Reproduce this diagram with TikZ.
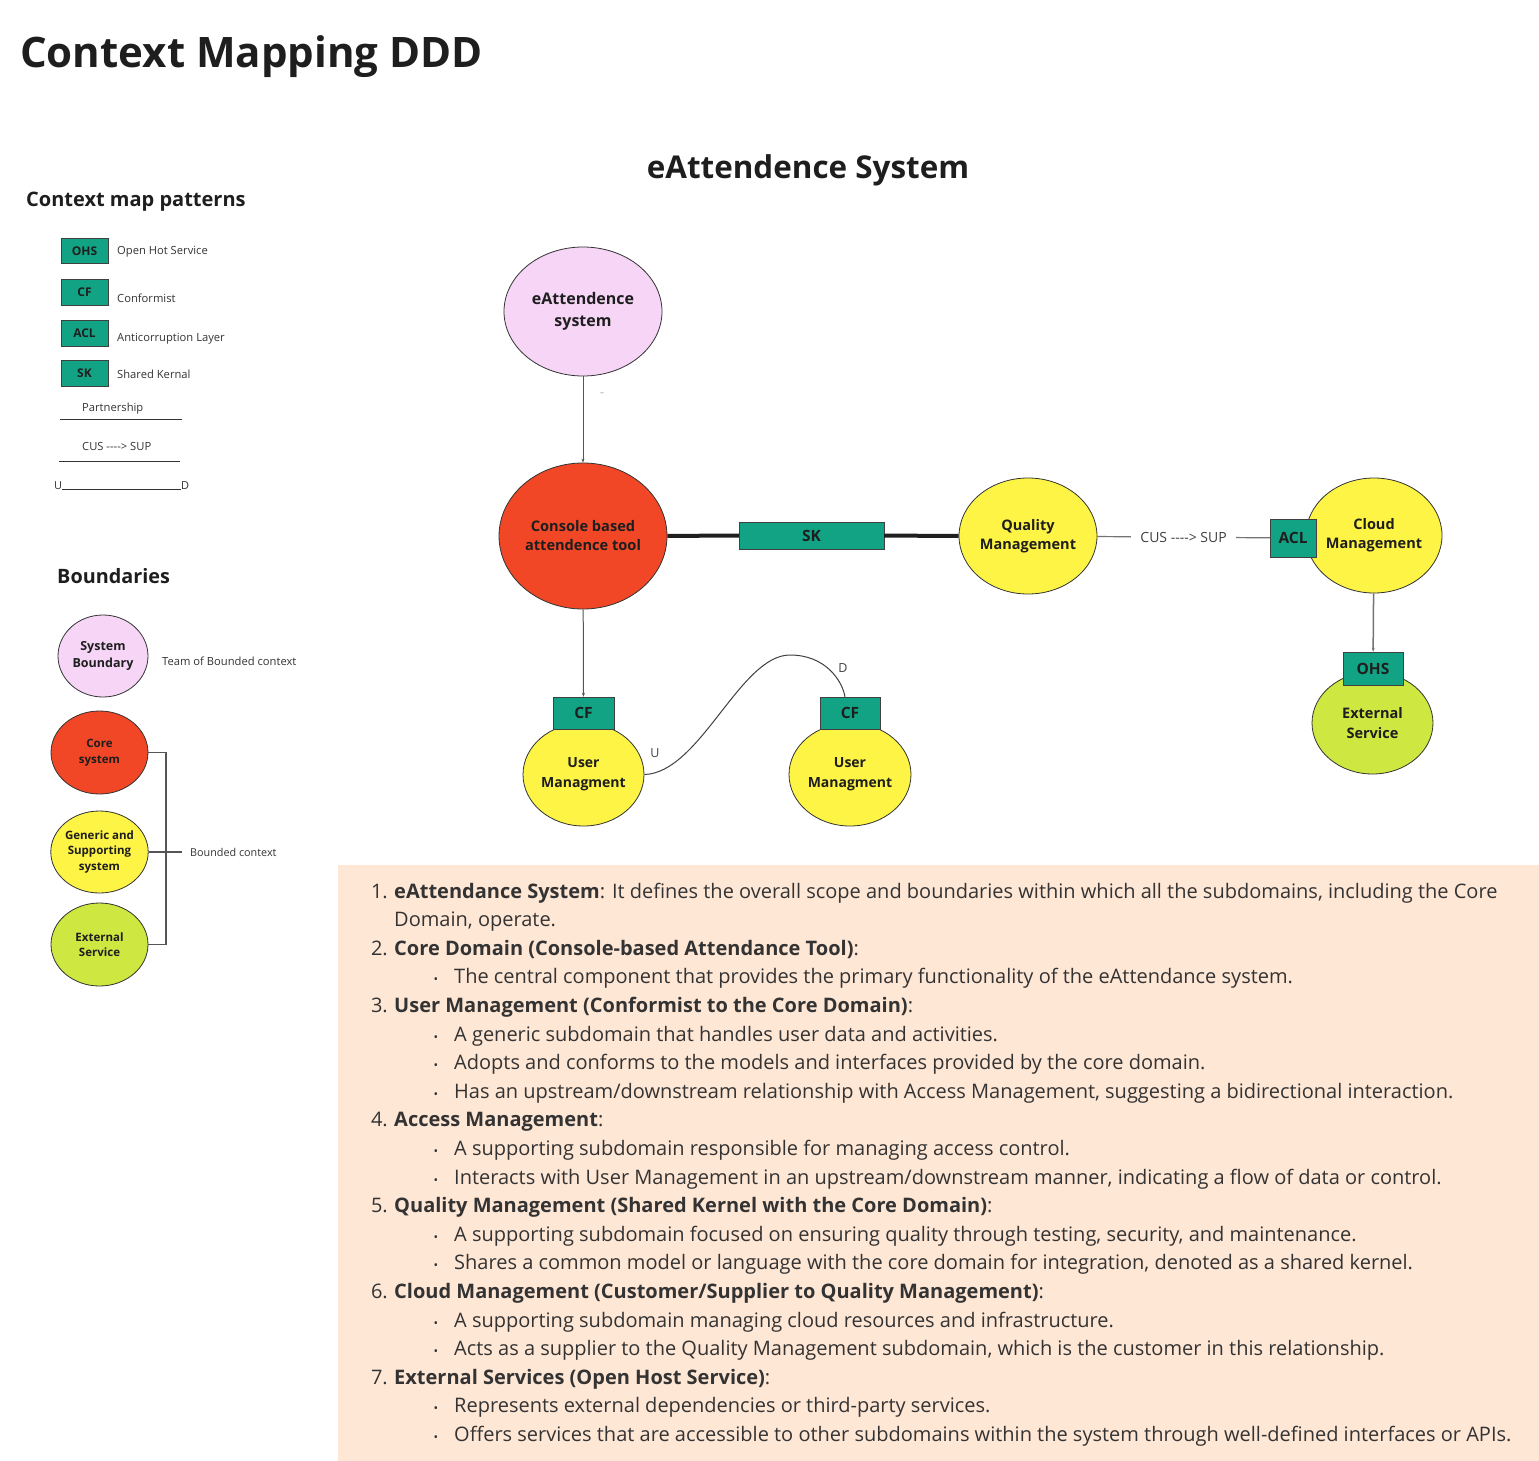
\documentclass[tikz,border=0pt]{standalone}
\usepackage{fontspec}
\setmainfont{Open Sans}
\usetikzlibrary{shapes.geometric,arrows.meta}

\definecolor{tealbox}{HTML}{12A385}
\definecolor{pinkbc}{HTML}{F6D5F7}
\definecolor{redbc}{HTML}{F24726}
\definecolor{yellowbc}{HTML}{FEF445}
\definecolor{limebc}{HTML}{CEE741}
\definecolor{peach}{HTML}{FFE7D6}
\definecolor{ink}{HTML}{1E1E1E}
\definecolor{wire}{HTML}{555555}

\newcommand{\sz}[2]{\fontsize{#1}{#2}\selectfont}

\tikzstyle{rotulo}= [anchor=base west,inner sep=0pt,text=ink]
\tikzstyle{nota}= [anchor=west,inner sep=0pt,text=black!80,font=\sz{11.2}{11.2}]
\tikzstyle{patron}= [rectangle,draw=black!75,fill=tealbox,inner sep=0pt,text=ink]
\tikzstyle{contexto}= [ellipse,draw=black!80,line width=0.8pt,inner sep=0pt,align=center,text=ink]
\tikzstyle{linea}= [anchor=base west,inner sep=0pt,text=black!80,font=\sz{20}{20}]
\tikzstyle{numero}= [anchor=base east,inner sep=0pt,text=black!80,font=\sz{20}{20}]
\tikzstyle{punto}= [anchor=base,inner sep=0pt,text=black!80,font=\sz{12}{12}]

\begin{document}
\begin{tikzpicture}[x=1pt,y=-1pt]
	\useasboundingbox (0,0) rectangle (1539,1461);
	\fill[peach] (338,865) rectangle (1539,1461);

		\node (titulo) at (20,68) [rotulo,font=\sz{42}{42}\bfseries] {Context Mapping DDD};
		\node (sistema) at (808,178) [rotulo,anchor=base,font=\sz{31.4}{31.4}\bfseries] {eAttendence System};
		\node (patrones) at (26,206) [rotulo,font=\sz{20}{20}\bfseries] {Context map patterns};
		\node (limites) at (57,583) [rotulo,font=\sz{19.8}{19.8}\bfseries] {Boundaries};

		% leyenda de patrones
		\node (pohs) at (84.5,251) [patron,minimum width=47pt,minimum height=25pt,font=\sz{12}{12}\bfseries] {OHS};
		\node at (117,252) [nota] {Open Hot Service};
		\node (pcf) at (84.5,292.5) [patron,minimum width=47pt,minimum height=26pt,font=\sz{12}{12}\bfseries] {CF};
		\node at (117,298) [nota] {Conformist};
		\node (pacl) at (84.5,333.5) [patron,minimum width=47pt,minimum height=26pt,font=\sz{12}{12}\bfseries] {ACL};
		\node at (117,339) [nota] {Anticorruption Layer};
		\node (psk) at (84.5,373.5) [patron,minimum width=47pt,minimum height=26pt,font=\sz{12}{12}\bfseries] {SK};
		\node at (117,374) [nota] {Shared Kernal};

		\node (ppart) at (82,409) [nota] {Partnership};
		\coordinate (pa1) at (60,419);
		\coordinate (pa2) at (182,419);
		\node (pcus) at (82,446) [nota] {CUS {-}{-}{-}{-}> SUP};
		\coordinate (pc1) at (59,461);
		\coordinate (pc2) at (180,461);
		\node (lu) at (54,489) [rotulo,text=black!80,font=\sz{11}{11}] {U};
		\node (ld) at (181,489) [rotulo,text=black!80,font=\sz{11}{11}] {D};

		\path[black!80,line width=1pt] (pa1) edge[] node {} (pa2);
		\path[black!80,line width=1pt] (pc1) edge[] node {} (pc2);
		\path[black!80,line width=0.8pt] (lu.base east) edge[] node {} (ld.base west);

		% leyenda de limites
		\node (lsb) at (103,656) [contexto,fill=pinkbc,minimum width=90pt,minimum height=82pt,font=\sz{12.5}{17}\bfseries] {System\\Boundary};
		\node at (162,661) [nota] {Team of Bounded context};
		\node (lcs) at (99.5,752.5) [contexto,fill=redbc,minimum width=97pt,minimum height=83pt,font=\sz{11.5}{15.5}\bfseries] {Core\\system};
		\node (lgs) at (99.5,852) [contexto,fill=yellowbc,minimum width=97pt,minimum height=82pt,font=\sz{11.5}{15.5}\bfseries] {Generic and\\Supporting\\system};
		\node (les) at (99.5,944.5) [contexto,fill=limebc,minimum width=97pt,minimum height=83pt,font=\sz{11.5}{15.5}\bfseries] {External\\Service};
		\node (lbc) at (190,852) [nota,font=\sz{10.8}{10.8}] {Bounded context};
		\coordinate (llave) at (166,852);

		\draw[wire,line width=1.2pt] (lcs.east) -| (llave) |- (les.east);
		\draw[wire,line width=1.2pt] (lgs.east) -- ([xshift=-8pt]lbc.west);

		% mapa de contextos
		\node (ea) at (583,311.5) [contexto,fill=pinkbc,minimum width=158pt,minimum height=129pt,font=\sz{16}{22}\bfseries] {eAttendence\\system};
		\node (core) at (583,536) [contexto,fill=redbc,minimum width=168pt,minimum height=146pt,font=\sz{14.6}{19}\bfseries] {Console based\\attendence tool};
		\node (qm) at (1028,536) [contexto,fill=yellowbc,minimum width=138pt,minimum height=116pt,font=\sz{14.5}{19}\bfseries] {Quality\\Management};
		\node (cm) at (1374,535.5) [contexto,fill=yellowbc,minimum width=136pt,minimum height=115pt,font=\sz{14.5}{19}\bfseries] {Cloud\\Management};
		\node (ext) at (1372.5,723) [contexto,fill=limebc,minimum width=121pt,minimum height=102pt,font=\sz{14.5}{20}\bfseries] {External\\Service};
		\node (um1) at (583.5,774.5) [contexto,fill=yellowbc,minimum width=121pt,minimum height=103pt,font=\sz{14}{20}\bfseries] {User\\Managment};
		\node (um2) at (850,774.5) [contexto,fill=yellowbc,minimum width=122pt,minimum height=103pt,font=\sz{14}{20}\bfseries] {User\\Managment};

		\node (sk) at (811.5,535.5) [patron,minimum width=145pt,minimum height=27pt,font=\sz{15.5}{15.5}\bfseries] {SK};
		\node (acl) at (1293,538) [patron,minimum width=46pt,minimum height=38pt,font=\sz{15.5}{15.5}\bfseries] {ACL};
		\node (ohs) at (1373,668.5) [patron,minimum width=60pt,minimum height=33pt,font=\sz{15.5}{15.5}\bfseries] {OHS};
		\node (cf1) at (583.5,713) [patron,minimum width=61pt,minimum height=32pt,font=\sz{15.5}{15.5}\bfseries] {CF};
		\node (cf2) at (850,713) [patron,minimum width=60pt,minimum height=32pt,font=\sz{15.5}{15.5}\bfseries] {CF};

		\node (marca) at (602,394) [text=black!45,font=\sz{8}{8}] {–};
		\node (mu) at (655,753) [text=black!75,font=\sz{12.5}{12.5}] {U};
		\node (md) at (843,668) [text=black!75,font=\sz{12.5}{12.5}] {D};
		\coordinate (pico) at (790,655);

		\path[wire,line width=1pt,-{Stealth[length=4pt,width=3pt]}] (ea) edge[] node {} (core);
		\path[wire,line width=1pt,-{Stealth[length=4pt,width=3pt]}] (core) edge[] node {} (cf1);
		\path[black!55,line width=1.5pt,-{Stealth[length=4pt,width=3pt]}] (cm) edge[] node {} (ohs);
		\path[black!88,line width=4pt] (core) edge[] node {} (sk);
		\path[black!88,line width=4pt] (sk) edge[] node {} (qm);
		\path[black!55,line width=1.2pt] (qm) edge[] node[fill=white,inner xsep=9pt,text=black!75,font=\sz{14}{14}] {CUS {-}{-}{-}{-}> SUP} (acl);
		\draw[black!75,line width=1pt] (um1.east) .. controls (700,773) and (740,655) .. (pico) .. controls (825,655) and (842,680) .. ([xshift=-5pt]cf2.north);

		% lista de subdominios
		\node (n1) at (388,898) [numero] {1.};
		\node (t1) at (394,898) [linea] {\textbf{eAttendance System}: It defines the overall scope and boundaries within which all the subdomains, including the Core};
		\node (t2) at (394,926.6) [linea] {Domain, operate.};
		\node (n2) at (388,955.2) [numero] {2.};
		\node (t3) at (394,955.2) [linea] {\textbf{Core Domain (Console-based Attendance Tool)}:};
		\node (b1) at (436,983.8) [punto] {•};
		\node (t4) at (454,983.8) [linea] {The central component that provides the primary functionality of the eAttendance system.};
		\node (n3) at (388,1012.4) [numero] {3.};
		\node (t5) at (394,1012.4) [linea] {\textbf{User Management (Conformist to the Core Domain)}:};
		\node (b2) at (436,1041) [punto] {•};
		\node (t6) at (454,1041) [linea] {A generic subdomain that handles user data and activities.};
		\node (b3) at (436,1069.6) [punto] {•};
		\node (t7) at (454,1069.6) [linea] {Adopts and conforms to the models and interfaces provided by the core domain.};
		\node (b4) at (436,1098.2) [punto] {•};
		\node (t8) at (454,1098.2) [linea] {Has an upstream/downstream relationship with Access Management, suggesting a bidirectional interaction.};
		\node (n4) at (388,1126.8) [numero] {4.};
		\node (t9) at (394,1126.8) [linea] {\textbf{Access Management}:};
		\node (b5) at (436,1155.4) [punto] {•};
		\node (t10) at (454,1155.4) [linea] {A supporting subdomain responsible for managing access control.};
		\node (b6) at (436,1184) [punto] {•};
		\node (t11) at (454,1184) [linea] {Interacts with User Management in an upstream/downstream manner, indicating a flow of data or control.};
		\node (n5) at (388,1212.6) [numero] {5.};
		\node (t12) at (394,1212.6) [linea] {\textbf{Quality Management (Shared Kernel with the Core Domain)}:};
		\node (b7) at (436,1241.2) [punto] {•};
		\node (t13) at (454,1241.2) [linea] {A supporting subdomain focused on ensuring quality through testing, security, and maintenance.};
		\node (b8) at (436,1269.8) [punto] {•};
		\node (t14) at (454,1269.8) [linea] {Shares a common model or language with the core domain for integration, denoted as a shared kernel.};
		\node (n6) at (388,1298.4) [numero] {6.};
		\node (t15) at (394,1298.4) [linea] {\textbf{Cloud Management (Customer/Supplier to Quality Management)}:};
		\node (b9) at (436,1327) [punto] {•};
		\node (t16) at (454,1327) [linea] {A supporting subdomain managing cloud resources and infrastructure.};
		\node (b10) at (436,1355.6) [punto] {•};
		\node (t17) at (454,1355.6) [linea] {Acts as a supplier to the Quality Management subdomain, which is the customer in this relationship.};
		\node (n7) at (388,1384.2) [numero] {7.};
		\node (t18) at (394,1384.2) [linea] {\textbf{External Services (Open Host Service)}:};
		\node (b11) at (436,1412.8) [punto] {•};
		\node (t19) at (454,1412.8) [linea] {Represents external dependencies or third-party services.};
		\node (b12) at (436,1441.4) [punto] {•};
		\node (t20) at (454,1441.4) [linea] {Offers services that are accessible to other subdomains within the system through well-defined interfaces or APIs.};

	\end{tikzpicture}
\end{document}
